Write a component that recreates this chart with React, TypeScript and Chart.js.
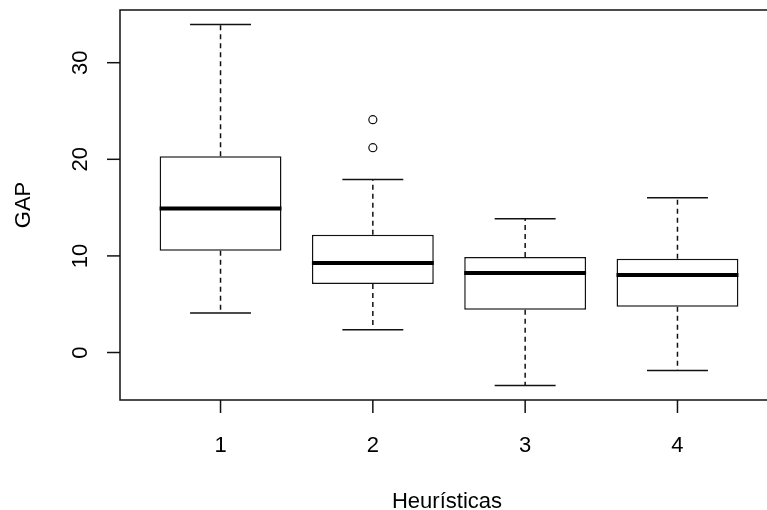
import React, { useEffect, useRef } from "react";
import { Chart, registerables } from "chart.js";

Chart.register(...registerables);

// ---- data ----
const categories = ["1", "2", "3", "4"];
const whiskerLow = [4.08, 2.35, -3.42, -1.87];
const q1 = [10.54, 7.09, 4.42, 4.74];
const median = [14.92, 9.26, 8.23, 8.02];
const q3 = [20.31, 12.2, 9.89, 9.71];
const whiskerHigh = [33.96, 17.9, 13.85, 16.03];
const outliers: number[][] = [[], [24.1, 21.2], [], []];
const yTicks = [0, 10, 20, 30];
const xTitle = "Heurísticas";
const yTitle = "GAP";

const FONT = '22px "Liberation Sans", Arial, sans-serif';
const LINE = 1.5;

// R-style 4% axis extension
const yLo = Math.min(...whiskerLow, ...outliers.flat());
const yHi = Math.max(...whiskerHigh, ...outliers.flat());
const yPad = (yHi - yLo) * 0.04;
const xLo = 0.5, xHi = categories.length + 0.5;
const xPad = (xHi - xLo) * 0.04;

const rBoxPlugin = {
  id: "rBox",
  afterDatasetsDraw(chart: any) {
    const ctx = chart.ctx;
    const xs = chart.scales.x;
    const ys = chart.scales.y;
    const area = chart.chartArea;
    const boxMeta = chart.getDatasetMeta(0);
    ctx.save();
    ctx.strokeStyle = "#111";
    ctx.lineCap = "butt";
    categories.forEach((_, i) => {
      const x = xs.getPixelForValue(i + 1);
      const w = boxMeta.data[i] ? boxMeta.data[i].width : 120;
      // whiskers (dashed)
      ctx.lineWidth = LINE;
      ctx.setLineDash([5, 4]);
      ctx.beginPath();
      ctx.moveTo(x, ys.getPixelForValue(q3[i]));
      ctx.lineTo(x, ys.getPixelForValue(whiskerHigh[i]));
      ctx.moveTo(x, ys.getPixelForValue(q1[i]));
      ctx.lineTo(x, ys.getPixelForValue(whiskerLow[i]));
      ctx.stroke();
      ctx.setLineDash([]);
      // staples
      ctx.beginPath();
      const yh = ys.getPixelForValue(whiskerHigh[i]);
      const yl = ys.getPixelForValue(whiskerLow[i]);
      ctx.moveTo(x - w / 4, yh);
      ctx.lineTo(x + w / 4, yh);
      ctx.moveTo(x - w / 4, yl);
      ctx.lineTo(x + w / 4, yl);
      ctx.stroke();
      // median
      ctx.strokeStyle = "#000";
      ctx.lineWidth = 4;
      ctx.beginPath();
      const ym = ys.getPixelForValue(median[i]);
      ctx.moveTo(x - w / 2, ym);
      ctx.lineTo(x + w / 2, ym);
      ctx.stroke();
      ctx.strokeStyle = "#111";
    });

    // plot frame
    ctx.lineWidth = LINE;
    ctx.strokeRect(area.left, area.top, area.right - area.left, area.bottom - area.top);

    // y axis ticks + labels
    ctx.fillStyle = "#000";
    ctx.font = FONT;
    yTicks.forEach((t) => {
      const y = ys.getPixelForValue(t);
      ctx.beginPath();
      ctx.moveTo(area.left - 13, y);
      ctx.lineTo(area.left, y);
      ctx.stroke();
      ctx.save();
      ctx.translate(area.left - 33, y);
      ctx.rotate(-Math.PI / 2);
      ctx.textAlign = "center";
      ctx.textBaseline = "alphabetic";
      ctx.fillText(String(t), 0, 0);
      ctx.restore();
    });

    // x axis ticks + labels
    categories.forEach((c, i) => {
      const x = xs.getPixelForValue(i + 1);
      ctx.beginPath();
      ctx.moveTo(x, area.bottom);
      ctx.lineTo(x, area.bottom + 13);
      ctx.stroke();
      ctx.textAlign = "center";
      ctx.textBaseline = "alphabetic";
      ctx.fillText(c, x, area.bottom + 52);
    });

    // axis titles
    ctx.textAlign = "center";
    ctx.fillText(xTitle, (area.left + area.right) / 2 - 2, area.bottom + 108);
    ctx.save();
    ctx.translate(area.left - 90, (area.top + area.bottom) / 2);
    ctx.rotate(-Math.PI / 2);
    ctx.fillText(yTitle, 0, 0);
    ctx.restore();

    ctx.restore();
  },
};

export default function App() {
  const ref = useRef<HTMLCanvasElement | null>(null);
  useEffect(() => {
    if (!ref.current) return;
    const chart = new Chart(ref.current, {
      type: "bar",
      data: {
        datasets: [
          {
            type: "bar",
            data: categories.map((_, i) => ({ x: i + 1, y: [q1[i], q3[i]] })) as any,
            backgroundColor: "#ffffff",
            borderColor: "#111111",
            borderWidth: LINE,
            borderSkipped: false,
            barPercentage: 0.8,
            categoryPercentage: 1,
          } as any,
          {
            type: "scatter",
            data: outliers.flatMap((arr, i) => arr.map((v) => ({ x: i + 1, y: v }))),
            pointRadius: 4,
            pointStyle: "circle",
            backgroundColor: "rgba(0,0,0,0)",
            borderColor: "#111111",
            borderWidth: 1.2,
          } as any,
        ],
      },
      options: {
        animation: false,
        responsive: false,
        devicePixelRatio: 1,
        events: [],
        layout: { padding: { left: 120, top: 10, right: 12, bottom: 110 } },
        plugins: { legend: { display: false }, tooltip: { enabled: false } },
        scales: {
          x: {
            type: "linear",
            display: false,
            offset: false,
            grid: { offset: false },
            min: xLo - xPad,
            max: xHi + xPad,
            afterBuildTicks: (axis: any) => {
              axis.ticks = categories.map((_, i) => ({ value: i + 1 }));
            },
          },
          y: {
            type: "linear",
            display: false,
            min: yLo - yPad,
            max: yHi + yPad,
          },
        },
      } as any,
      plugins: [rBoxPlugin],
    });
    return () => chart.destroy();
  }, []);
  return (
    <div
      style={{
        position: "fixed",
        left: 0,
        top: 0,
        width: 767,
        height: 510,
        overflow: "hidden",
        background: "#fff",
      }}
    >
      <canvas ref={ref} width={790} height={510} style={{ display: "block" }} />
    </div>
  );
}
